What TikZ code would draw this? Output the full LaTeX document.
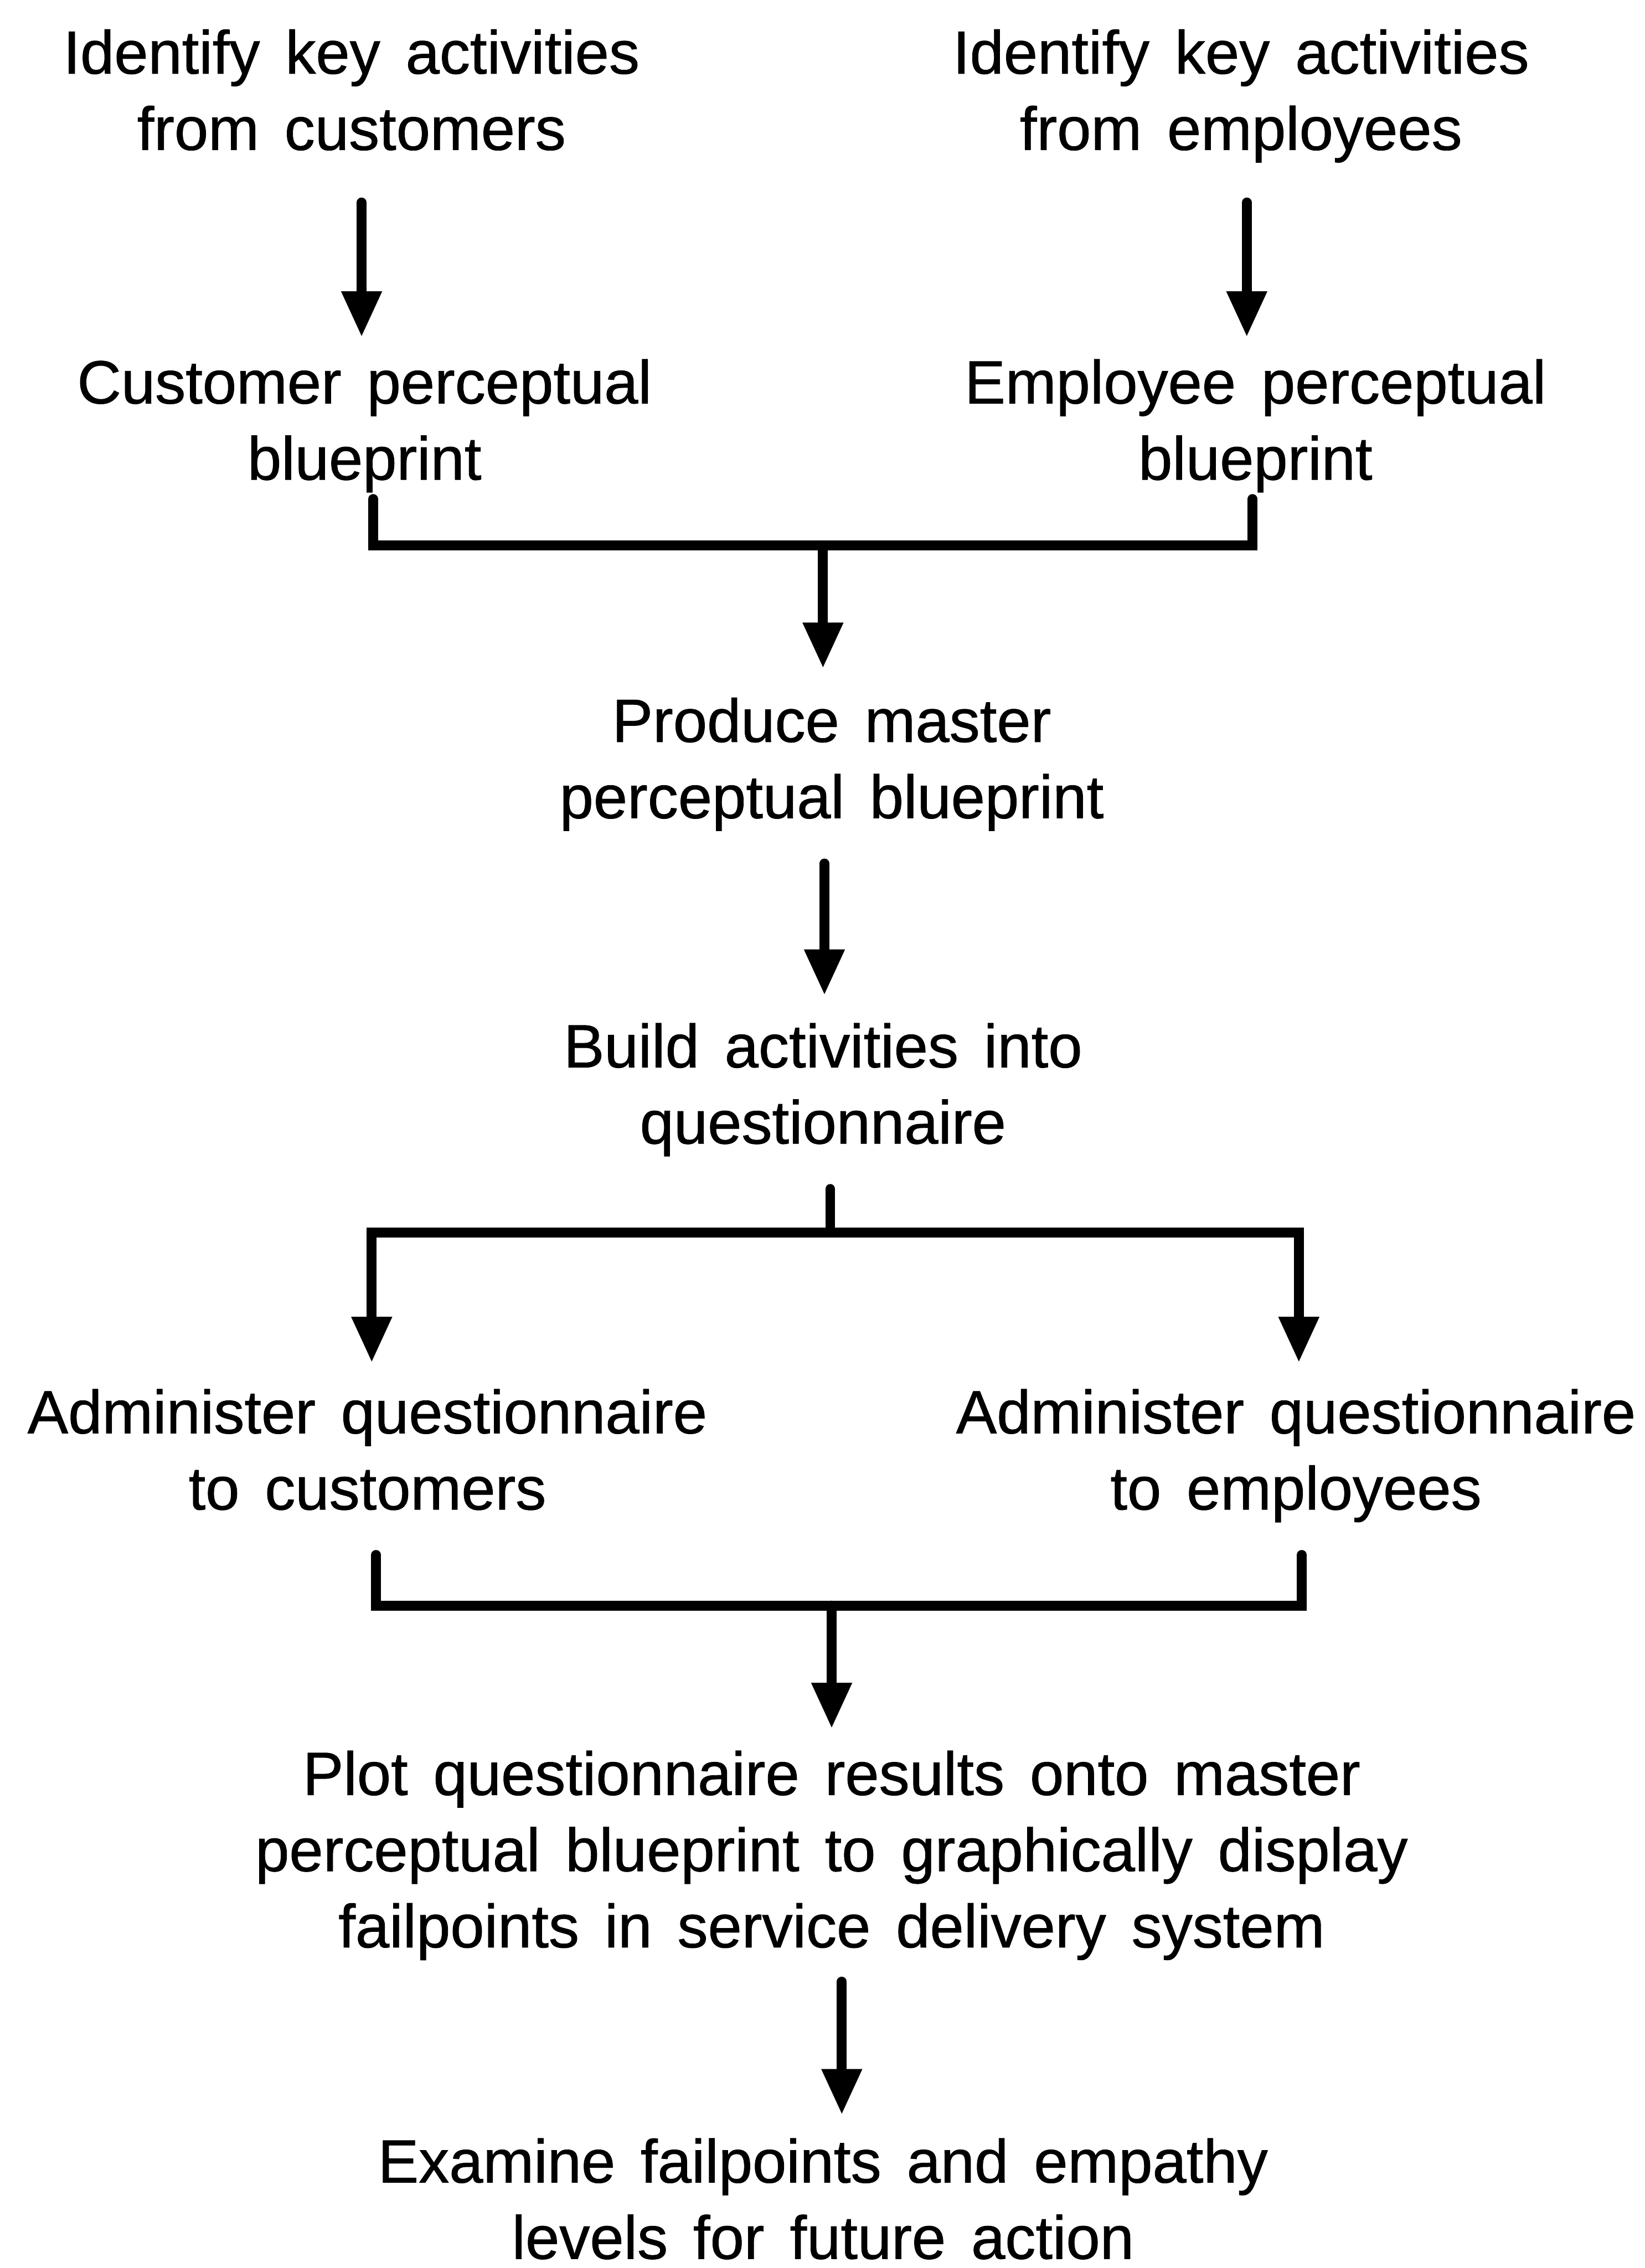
\documentclass[tikz,border=0pt]{standalone}
\usepackage{fontspec}
\setmainfont{Liberation Sans}[WordSpace=1.5,FakeBold=0.8]
\usetikzlibrary{arrows.meta,calc}
\begin{document}
\begin{tikzpicture}[x=0.02cm,y=-0.02cm,
  steptext/.style={anchor=north,align=center,inner sep=0pt,
    font=\fontsize{24}{30}\selectfont},
  flow/.style={line width=3.9pt,line cap=round},
  arr/.style={flow,-{Triangle[width=15pt,length=18pt]}}]
\useasboundingbox (0,0) rectangle (1137,1568);

% steps of the procedure
\node[steptext] (a1) at (243,20)  {Identify key activities\\from customers};
\node[steptext] (a2) at (858,20)  {Identify key activities\\from employees};
\node[steptext] (b1) at (252,248) {Customer perceptual\\blueprint};
\node[steptext] (b2) at (868,248) {Employee perceptual\\blueprint};
\node[steptext] (c)  at (575,482) {Produce master\\perceptual blueprint};
\node[steptext] (d)  at (569,707) {Build activities into\\questionnaire};
\node[steptext] (e1) at (254,960) {Administer questionnaire\\to customers};
\node[steptext] (e2) at (896,960) {Administer questionnaire\\to employees};
\node[steptext] (f)  at (575,1210) {Plot questionnaire results onto master\\perceptual blueprint to graphically display\\failpoints in service delivery system};
\node[steptext] (g)  at (569,1478) {Examine failpoints and empathy\\levels for future action};

% junction points on the joining bars
\coordinate (j1) at (569,377);
\coordinate (j2) at (574,852);
\coordinate (j3) at (575,1110);

% separate customer / employee blueprints
\draw[arr] ($(a1.north)+(7,120)$) -- ($(b1.north)+(-2,-15)$);
\draw[arr] ($(a2.north)+(4,120)$) -- ($(b2.north)+(-6,-15)$);

% merge into master blueprint
\draw[flow] ($(b1.north)+(6,97)$) |- ($(b2.north)+(-2,129)$) -- ($(b2.north)+(-2,97)$);
\draw[arr] (j1) -- ($(c.north)+(-6,-20)$);

\draw[arr] ($(c.north)+(-5,115)$) -- ($(d.north)+(1,-19)$);

% split into the two questionnaires
\draw[flow] ($(d.north)+(5,115)$) -- (j2);
\draw[arr] (j2) -| ($(e1.north)+(3,-18)$);
\draw[arr] (j2) -| ($(e2.north)+(2,-18)$);

% merge the results
\draw[flow] ($(e1.north)+(6,115)$) |- ($(e2.north)+(4,150)$) -- ($(e2.north)+(4,115)$);
\draw[arr] (j3) -- ($(f.north)+(0,-15)$);

\draw[arr] ($(f.north)+(7,160)$) -- ($(g.north)+(13,-16)$);
\end{tikzpicture}
\end{document}
